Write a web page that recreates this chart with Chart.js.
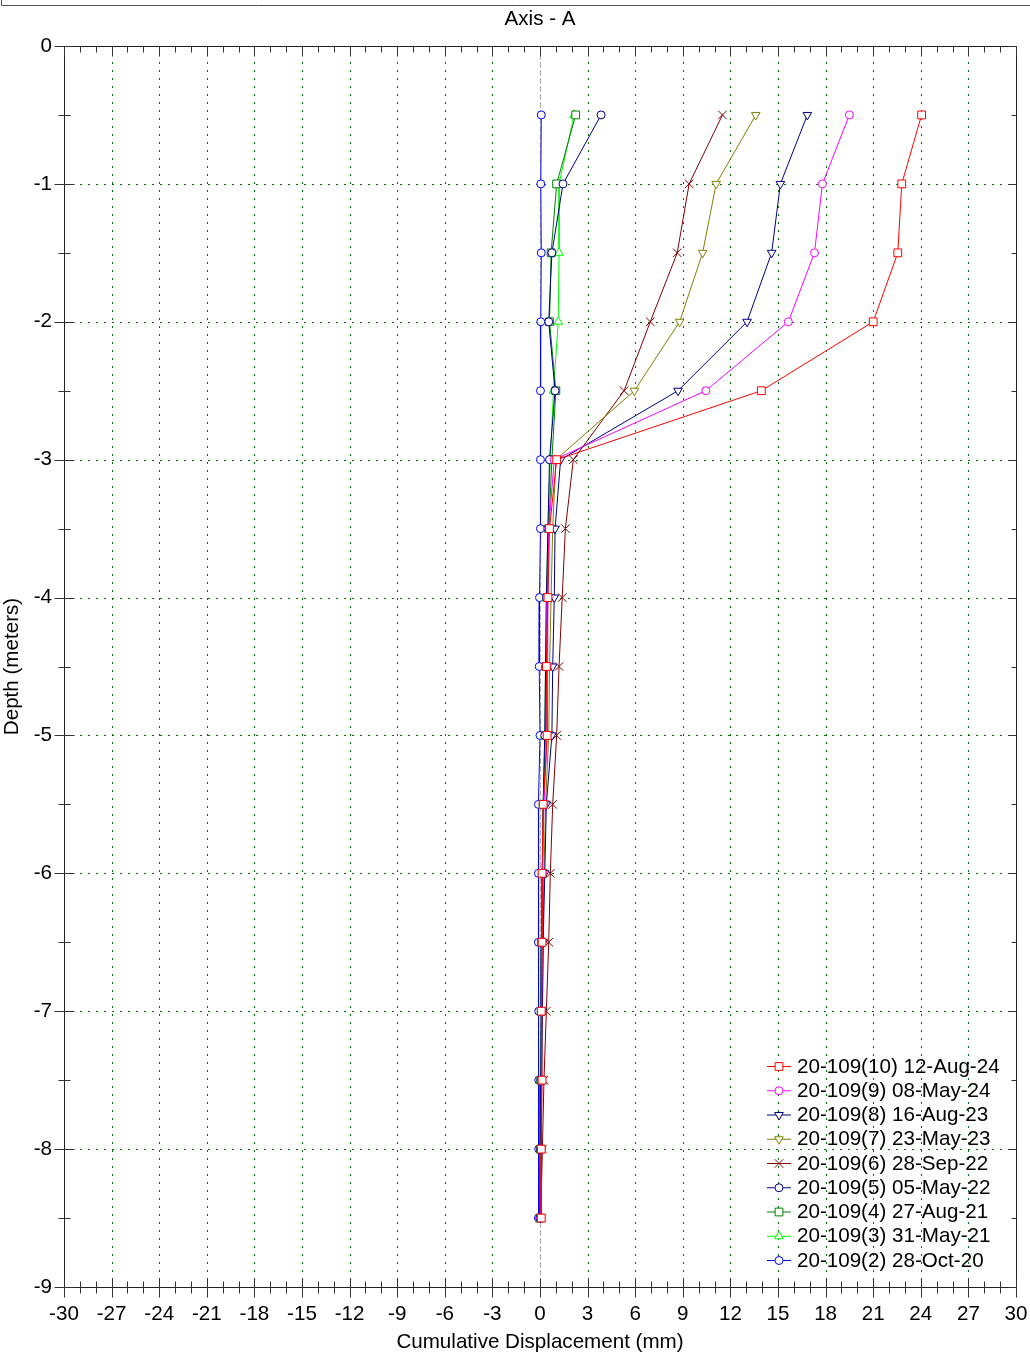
<!DOCTYPE html>
<html>
<head>
<meta charset="utf-8">
<title>Axis - A</title>
<script src="https://cdn.jsdelivr.net/npm/chart.js@4.4.1/dist/chart.umd.min.js"></script>
<style>
  html, body { margin: 0; padding: 0; background: #fff; }
  canvas { display: block; }
</style>
</head>
<body>
<canvas id="chart" width="1030" height="1355"></canvas>
<script>
// ---- data ----
const depths = [-0.5, -1, -1.5, -2, -2.5, -3, -3.5, -4, -4.5, -5, -5.5, -6, -6.5, -7, -7.5, -8, -8.5];

const s10 = [24.05, 22.8, 22.55, 21.0, 13.95, 1.05, 0.6, 0.5, 0.4, 0.45, 0.2, 0.13, 0.13, 0.08, 0.13, 0.08, 0.08];
const s9  = [19.5, 17.8, 17.3, 15.65, 10.45, 0.9, 0.55, 0.5, 0.45, 0.45, 0.25, 0.15, 0.12, 0.1, 0.1, 0.08, 0.05];
const s8  = [16.85, 15.15, 14.6, 13.05, 8.7, 1.3, 0.95, 0.9, 0.8, 0.75, 0.4, 0.3, 0.2, 0.15, 0.1, 0.08, 0.05];
const s7  = [13.6, 11.1, 10.25, 8.8, 5.95, 1.0, 0.8, 0.7, 0.6, 0.55, 0.35, 0.25, 0.2, 0.15, 0.1, 0.05, 0.05];
const s6  = [11.5, 9.4, 8.65, 6.95, 5.3, 2.1, 1.6, 1.4, 1.2, 1.05, 0.8, 0.65, 0.55, 0.4, 0.25, 0.15, 0.05];
const s5  = [3.85, 1.45, 0.75, 0.55, 0.95, 0.6, 0.5, 0.4, 0.35, 0.3, 0.2, 0.15, 0.1, 0.08, 0.05, 0.03, 0.0];
const s4  = [2.25, 1.05, 0.7, 0.6, 1.0, 0.75, 0.55, 0.45, 0.4, 0.35, 0.2, 0.15, 0.1, 0.08, 0.05, 0.03, 0.0];
const s3  = [2.15, 1.2, 1.2, 1.15, 0.85, 0.65, 0.5, 0.4, 0.35, 0.3, 0.2, 0.15, 0.1, 0.08, 0.05, 0.03, 0.0];
const s2  = [0.08, 0.05, 0.08, 0.05, 0.03, 0.03, 0.03, -0.03, -0.05, 0.0, -0.1, -0.1, -0.1, -0.08, -0.08, -0.08, -0.1];

const seriesNames = [
  "20-109(10) 12-Aug-24",
  "20-109(9) 08-May-24",
  "20-109(8) 16-Aug-23",
  "20-109(7) 23-May-23",
  "20-109(6) 28-Sep-22",
  "20-109(5) 05-May-22",
  "20-109(4) 27-Aug-21",
  "20-109(3) 31-May-21",
  "20-109(2) 28-Oct-20"
];
const seriesValues = [s10, s9, s8, s7, s6, s5, s4, s3, s2];

const xTickValues = [-30, -27, -24, -21, -18, -15, -12, -9, -6, -3, 0, 3, 6, 9, 12, 15, 18, 21, 24, 27, 30];
const yTickValues = [0, -1, -2, -3, -4, -5, -6, -7, -8, -9];

// ---- styles ----
const FONT = "'Liberation Sans', Arial, sans-serif";
const FSIZE = 20.6;
const styles = [
  { color: '#ff0000', point: 'rect', radius: 5.5, rot: 0 },
  { color: '#ff00ff', point: 'circle', radius: 4, rot: 0 },
  { color: '#000080', point: 'triangle', radius: 5, rot: 180 },
  { color: '#808000', point: 'triangle', radius: 5, rot: 180 },
  { color: '#800000', point: 'crossRot', radius: 6, rot: 0 },
  { color: '#000080', point: 'circle', radius: 4, rot: 0 },
  { color: '#008000', point: 'rect', radius: 5.5, rot: 0 },
  { color: '#00ff00', point: 'triangle', radius: 5, rot: 0 },
  { color: '#0000ff', point: 'circle', radius: 4, rot: 0 }
];

const datasets = seriesValues.map((vals, i) => ({
  label: seriesNames[i],
  data: vals.map((v, k) => ({ x: v, y: depths[k] })),
  showLine: true,
  borderColor: styles[i].color,
  borderWidth: 1,
  backgroundColor: '#ffffff',
  pointStyle: styles[i].point,
  pointRadius: styles[i].radius,
  pointRotation: styles[i].rot,
  pointBorderColor: styles[i].color,
  pointBackgroundColor: '#ffffff',
  pointBorderWidth: 1,
  tension: 0
}));

// grid, frame, ticks, title, legend
const decor = {
  id: 'decor',
  beforeDatasetsDraw(chart) {
    const { ctx, chartArea: a, scales: { x, y } } = chart;
    ctx.save();
    ctx.lineWidth = 1;
    xTickValues.forEach(v => {
      const px = Math.round(x.getPixelForValue(v)) + 0.5;
      if (v === 0) { ctx.strokeStyle = '#b0b0b0'; ctx.setLineDash([6, 2]); }
      else { ctx.strokeStyle = '#007000'; ctx.setLineDash([2, 6]); }
      ctx.beginPath(); ctx.moveTo(px, a.top); ctx.lineTo(px, a.bottom); ctx.stroke();
    });
    ctx.strokeStyle = '#007000'; ctx.setLineDash([2, 6]);
    yTickValues.forEach(v => {
      const py = Math.round(y.getPixelForValue(v)) + 0.5;
      ctx.beginPath(); ctx.moveTo(a.left, py); ctx.lineTo(a.right, py); ctx.stroke();
    });
    ctx.restore();
  },
  afterDraw(chart) {
    const { ctx, chartArea: a, scales: { x, y } } = chart;
    ctx.save();
    ctx.setLineDash([]);
    ctx.lineWidth = 1;
    const L = Math.round(a.left) + 0.5, R = Math.round(a.right) + 0.5;
    const T = Math.round(a.top) + 0.5, B = Math.round(a.bottom) + 0.5;

    // outer header frame
    ctx.strokeStyle = '#555';
    ctx.beginPath();
    ctx.moveTo(1.5, 0); ctx.lineTo(1.5, 5.5); ctx.lineTo(1030, 5.5);
    ctx.stroke();

    // plot frame
    ctx.strokeStyle = '#222';
    ctx.strokeRect(L, T, R - L, B - T);

    // x ticks (minor every 1, major every 3)
    ctx.strokeStyle = '#333';
    for (let v = -30; v <= 30; v++) {
      const px = Math.round(x.getPixelForValue(v)) + 0.5;
      const major = v % 3 === 0;
      ctx.beginPath();
      ctx.moveTo(px, B - (major ? 9 : 6)); ctx.lineTo(px, B + (major ? 10 : 6));
      ctx.moveTo(px, T); ctx.lineTo(px, T + (major ? 10 : 6));
      ctx.stroke();
    }
    // y ticks (minor every 0.5, major every 1)
    for (let k = 0; k <= 18; k++) {
      const v = -k / 2;
      const py = Math.round(y.getPixelForValue(v)) + 0.5;
      const major = k % 2 === 0;
      ctx.beginPath();
      ctx.moveTo(L - (major ? 10 : 6), py); ctx.lineTo(L + (major ? 10 : 6), py);
      ctx.moveTo(R, py); ctx.lineTo(R - (major ? 8 : 5), py);
      ctx.stroke();
    }

    // title
    ctx.fillStyle = '#000';
    ctx.font = FSIZE + 'px ' + FONT;
    ctx.textAlign = 'center';
    ctx.textBaseline = 'middle';
    ctx.fillText('Axis - A', x.getPixelForValue(0), 19);

    // legend
    const lx = 767, ly = 1066, step = 24.25;
    ctx.textAlign = 'left';
    chart.data.datasets.forEach((ds, i) => {
      const yy = ly + i * step;
      const st = styles[i];
      ctx.strokeStyle = st.color;
      ctx.lineWidth = 1;
      ctx.beginPath(); ctx.moveTo(lx, yy + 0.5); ctx.lineTo(lx + 24, yy + 0.5); ctx.stroke();
      ctx.fillStyle = '#fff';
      Chart.helpers.drawPoint(ctx, { pointStyle: st.point, radius: st.radius, rotation: st.rot, borderWidth: 1 }, lx + 12, yy + 0.5);
      ctx.fillStyle = '#000';
      ctx.fillText(ds.label, lx + 30, yy + 1);
    });
    ctx.restore();
  }
};

new Chart(document.getElementById('chart'), {
  type: 'scatter',
  data: { datasets },
  options: {
    responsive: false,
    animation: false,
    events: [],
    layout: { padding: { top: 46, right: 14, bottom: 0, left: 0 } },
    plugins: { legend: { display: false }, tooltip: { enabled: false }, title: { display: false } },
    scales: {
      x: {
        type: 'linear',
        min: -30, max: 30,
        afterBuildTicks: s => { s.ticks = xTickValues.map(v => ({ value: v })); },
        afterFit: s => { s.height = 68; s.paddingLeft = 0; s.paddingRight = 0; },
        grid: { display: false, drawTicks: false },
        border: { display: false },
        ticks: { autoSkip: false, maxRotation: 0, padding: 15, color: '#000', font: { family: FONT, size: FSIZE } },
        title: { display: true, text: 'Cumulative Displacement (mm)', color: '#000', padding: { top: 0, bottom: 0 }, font: { family: FONT, size: FSIZE } }
      },
      y: {
        type: 'linear',
        min: -9, max: 0,
        afterBuildTicks: s => { s.ticks = yTickValues.map(v => ({ value: v })); },
        afterFit: s => { s.width = 64; s.paddingTop = 0; s.paddingBottom = 0; },
        grid: { display: false, drawTicks: false },
        border: { display: false },
        ticks: { autoSkip: false, padding: 12, color: '#000', font: { family: FONT, size: FSIZE } },
        title: { display: true, text: 'Depth (meters)', color: '#000', padding: { top: 0, bottom: 0 }, font: { family: FONT, size: FSIZE } }
      }
    }
  },
  plugins: [decor]
});
</script>
</body>
</html>
